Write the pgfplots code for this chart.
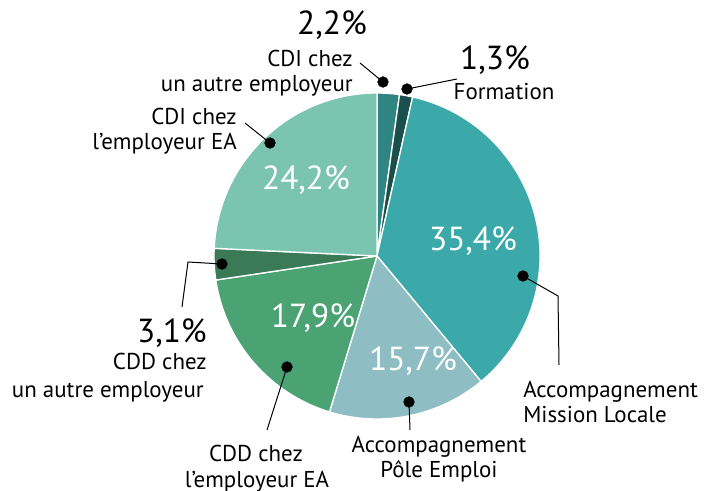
\documentclass[border=0pt]{standalone}
\usepackage{fontspec}
\setmainfont{PT Sans}
\usepackage{pgfplots}
\usepackage{pgfplotstable}
\pgfplotsset{compat=1.18}

\definecolor{pie0}{HTML}{2E8582}
\definecolor{pie1}{HTML}{1B4F4C}
\definecolor{pie2}{HTML}{3BA9A9}
\definecolor{pie3}{HTML}{8EBDC4}
\definecolor{pie4}{HTML}{4BA374}
\definecolor{pie5}{HTML}{3A7A56}
\definecolor{pie6}{HTML}{7BC4B0}

\newcommand\lab{\fontsize{17.2}{19}\selectfont}
\newcommand\pct{\fontsize{25}{28}\selectfont}

% shares, clockwise from 12 o'clock
\pgfplotstableread{
share
2.2
1.3
35.4
15.7
17.9
3.1
24.2
}\piedata

\pgfplotstablegetrowsof{\piedata}
\pgfmathtruncatemacro\pielast{\pgfplotsretval-1}
\gdef\pietotal{0}
\foreach \i in {0,...,\pielast}{%
  \pgfplotstablegetelem{\i}{share}\of\piedata
  \pgfmathsetmacro\tmp{\pietotal+\pgfplotsretval}%
  \xdef\pietotal{\tmp}%
}
\gdef\piecum{0}
\foreach \i in {0,...,\pielast}{%
  \pgfplotstablegetelem{\i}{share}\of\piedata
  \pgfmathsetmacro\pa{90-(\piecum/\pietotal)*360}%
  \pgfmathsetmacro\tmp{\piecum+\pgfplotsretval}%
  \pgfmathsetmacro\pb{90-(\tmp/\pietotal)*360}%
  \expandafter\xdef\csname pieS\i\endcsname{\pa}%
  \expandafter\xdef\csname pieE\i\endcsname{\pb}%
  \xdef\piecum{\tmp}%
}
\def\pieS#1{\csname pieS#1\endcsname}
\def\pieE#1{\csname pieE#1\endcsname}

\begin{document}
\begin{tikzpicture}
\begin{axis}[
  scale only axis,
  width=531.75pt, height=368.25pt,
  xmin=0, xmax=709, ymin=0, ymax=491,
  y dir=reverse,
  axis lines=none,
  clip=false,
]
% wedges (pixel units: 1px = 0.75pt)
\pgfplotsinvokeforeach{0,...,6}{
  \fill[pie#1, draw=white, line width=1pt, line join=round]
    (axis cs:377,256) -- ++({\pieS{#1}}:122.25pt)
    arc[start angle={\pieS{#1}}, end angle={\pieE{#1}}, radius=122.25pt] -- cycle;
}

% leader lines
\addplot[black, line width=0.75pt] coordinates {(383,82) (360,63)};
\addplot[black, line width=0.75pt] coordinates {(407,89) (457,79)};
\addplot[black, line width=0.75pt] coordinates {(523,276) (558,296) (559,365)};
\addplot[black, line width=0.75pt] coordinates {(409,402) (410,430)};
\addplot[black, line width=0.75pt] coordinates {(287,367) (267,430)};
\addplot[black, line width=0.75pt] coordinates {(222,264) (188,262) (182,307)};
\addplot[black, line width=0.75pt] coordinates {(270,143) (245,123)};
\addplot[only marks, mark=*, mark size=4pt, black] coordinates {
  (383,82) (407,89) (523,276) (409,402) (287,367) (222,264) (270,143)};

% values inside wedges
\node[white, anchor=base, inner sep=0] at (axis cs:306,190) {\pct 24,2\%};
\node[white, anchor=base, inner sep=0] at (axis cs:473,251) {\pct 35,4\%};
\node[white, anchor=base, inner sep=0] at (axis cs:413,370) {\pct 15,7\%};
\node[white, anchor=base, inner sep=0] at (axis cs:313,327) {\pct 17,9\%};

% outside labels
\node[anchor=base, inner sep=0] at (axis cs:332,35) {\pct 2,2\%};
\node[anchor=base east, inner sep=0] at (axis cs:353,67) {\lab CDI chez};
\node[anchor=base east, inner sep=0] at (axis cs:353,92) {\lab un autre employeur};

\node[anchor=base, inner sep=0] at (axis cs:495,70) {\pct 1,3\%};
\node[anchor=base, inner sep=0] at (axis cs:504,100) {\lab Formation};

\node[anchor=base east, inner sep=0] at (axis cs:237,125) {\lab CDI chez};
\node[anchor=base east, inner sep=0] at (axis cs:237,150) {\lab l’employeur EA};

\node[anchor=base west, inner sep=0] at (axis cs:523,397) {\lab Accompagnement};
\node[anchor=base west, inner sep=0] at (axis cs:523,422) {\lab Mission Locale};

\node[anchor=base, inner sep=0] at (axis cs:439,452) {\lab Accompagnement};
\node[anchor=base, inner sep=0] at (axis cs:439,477) {\lab Pôle Emploi};

\node[anchor=base, inner sep=0] at (axis cs:256,461) {\lab CDD chez};
\node[anchor=base, inner sep=0] at (axis cs:257,487) {\lab l’employeur EA};

\node[anchor=base east, inner sep=0] at (axis cs:207,342) {\pct 3,1\%};
\node[anchor=base east, inner sep=0] at (axis cs:207,369) {\lab CDD chez};
\node[anchor=base east, inner sep=0] at (axis cs:204,397) {\lab un autre employeur};
\end{axis}
\pgfresetboundingbox
\path[use as bounding box] (0,0) rectangle (531.75pt,368.25pt);
\end{tikzpicture}
\end{document}
